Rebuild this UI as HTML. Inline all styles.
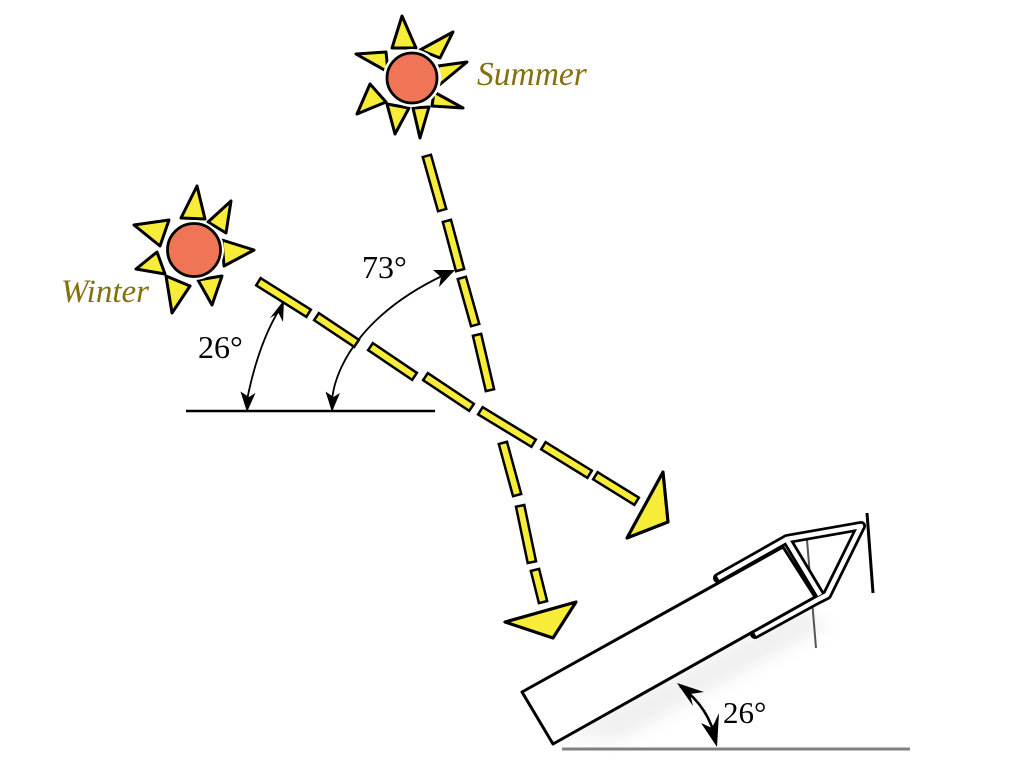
<!DOCTYPE html>
<html><head><meta charset="utf-8">
<style>
html,body{margin:0;padding:0;background:#fff;}
svg{display:block;}
</style></head>
<body>
<svg width="1030" height="782" viewBox="0 0 1030 782" xmlns="http://www.w3.org/2000/svg">
<defs>
<filter id="blur" x="-20%" y="-20%" width="140%" height="140%"><feGaussianBlur stdDeviation="8"/></filter>
</defs>
<rect width="1030" height="782" fill="#fff"/>

<!-- Summer sun -->
<g stroke="#000" stroke-width="3" stroke-linejoin="round" fill="#f7ec38">
<polygon points="392,48 402,16 416,48"/>
<polygon points="420,50 453,32 440,58"/>
<polygon points="438,66 467,62 438,86"/>
<polygon points="434,92 463,108 432,106"/>
<polygon points="413,108 420,138 429,107"/>
<polygon points="387,104 395,134 409,108"/>
<polygon points="370,84 357,114 386,102"/>
<polygon points="356,54 386,52 388,72"/>
</g>
<circle cx="412" cy="78" r="29" fill="#fff"/>
<circle cx="412" cy="78" r="25" fill="#f07557" stroke="#000" stroke-width="2.8"/>

<!-- Winter sun -->
<g stroke="#000" stroke-width="3" stroke-linejoin="round" fill="#f7ec38">
<polygon points="181,218 197,186 205,219"/>
<polygon points="208,222 231,201 226,233"/>
<polygon points="222,240 254,250 224,266"/>
<polygon points="198,280 212,305 222,276"/>
<polygon points="166,276 172,313 190,286"/>
<polygon points="157,252 136,269 165,274"/>
<polygon points="134,225 169,220 160,246"/>
</g>
<circle cx="194" cy="250" r="30" fill="#fff"/>
<circle cx="194" cy="250" r="26.5" fill="#f07557" stroke="#000" stroke-width="2.8"/>

<!-- Labels -->
<text x="477" y="85" font-family="Liberation Serif, serif" font-style="italic" font-size="33.5" fill="#85700f">Summer</text>
<text x="61" y="302" font-family="Liberation Serif, serif" font-style="italic" font-size="33" fill="#85700f">Winter</text>
<text x="198" y="358" font-family="Liberation Serif, serif" font-size="32" fill="#000">26°</text>
<text x="362" y="278" font-family="Liberation Serif, serif" font-size="32" fill="#000">73°</text>
<text x="723" y="723" font-family="Liberation Serif, serif" font-size="31" fill="#000">26°</text>

<!-- horizontal line -->
<line x1="186" y1="411" x2="435" y2="411" stroke="#000" stroke-width="2.4"/>

<!-- 26 arc -->
<path d="M247,400 Q258,345 279,310" fill="none" stroke="#000" stroke-width="1.8"/>
<polygon points="284,300 283,322 278.5,313 270,318" fill="#000"/>
<polygon points="247,412 255.5,393 249,397 240.5,391.5" fill="#000"/>

<!-- 73 arc -->
<path d="M332,400 C336,360 370,310 444,275" fill="none" stroke="#000" stroke-width="1.8"/>
<polygon points="332,412 339.9,393 333.5,397 325.5,391.5" fill="#000"/>
<polygon points="455,270 439,287 441,277 433,270" fill="#000"/>

<!-- Winter beam dashes -->
<g stroke="#000" stroke-width="11" stroke-linecap="square">
<line x1="262" y1="284" x2="305" y2="311"/>
<line x1="320" y1="319" x2="353" y2="341"/>
<line x1="374" y1="349" x2="411" y2="374"/>
<line x1="429" y1="379" x2="468" y2="405"/>
<line x1="484" y1="413" x2="530" y2="441"/>
<line x1="547" y1="448" x2="586" y2="472"/>
<line x1="599" y1="478" x2="633" y2="499"/>
</g>
<g stroke="#f7ec38" stroke-width="6" stroke-linecap="square">
<line x1="262" y1="284" x2="305" y2="311"/>
<line x1="320" y1="319" x2="353" y2="341"/>
<line x1="374" y1="349" x2="411" y2="374"/>
<line x1="429" y1="379" x2="468" y2="405"/>
<line x1="484" y1="413" x2="530" y2="441"/>
<line x1="547" y1="448" x2="586" y2="472"/>
<line x1="599" y1="478" x2="633" y2="499"/>
</g>

<!-- Summer beam dashes -->
<g stroke="#000" stroke-width="11" stroke-linecap="square">
<line x1="428" y1="160" x2="441" y2="206"/>
<line x1="448" y1="225" x2="459" y2="266"/>
<line x1="463" y1="282" x2="474" y2="321"/>
<line x1="478" y1="339" x2="489" y2="386"/>
<line x1="504" y1="447" x2="516" y2="491"/>
<line x1="521" y1="510" x2="531" y2="558"/>
<line x1="536" y1="574" x2="542" y2="598"/>
</g>
<g stroke="#f7ec38" stroke-width="6" stroke-linecap="square">
<line x1="428" y1="160" x2="441" y2="206"/>
<line x1="448" y1="225" x2="459" y2="266"/>
<line x1="463" y1="282" x2="474" y2="321"/>
<line x1="478" y1="339" x2="489" y2="386"/>
<line x1="504" y1="447" x2="516" y2="491"/>
<line x1="521" y1="510" x2="531" y2="558"/>
<line x1="536" y1="574" x2="542" y2="598"/>
</g>

<!-- arrowheads -->
<polygon points="663,472 668,522 627,538" fill="#f7ec38" stroke="#000" stroke-width="3.2" stroke-linejoin="round"/>
<polygon points="505,622 576,602 553,638" fill="#f7ec38" stroke="#000" stroke-width="3.2" stroke-linejoin="round"/>

<!-- shadow -->
<polygon points="560,735 800,610 830,625 620,740" fill="#d8d8d8" opacity="0.4" filter="url(#blur)"/>

<!-- gray leg -->
<line x1="807" y1="540" x2="816" y2="648" stroke="#555" stroke-width="2"/>

<!-- collector tubes -->
<g fill="none" stroke-linejoin="round">
<path d="M718,578 L787,539 L861,526 L827,595 L817,600 L755,634" stroke="#000" stroke-width="10" stroke-linecap="round"/>
<path d="M787,540 L820,595" stroke="#000" stroke-width="10"/>
<path d="M718,578 L787,539 L861,526 L827,595 L817,600 L755,634" stroke="#fff" stroke-width="4.5"/>
<path d="M787,540 L820,595" stroke="#fff" stroke-width="4.5"/>
</g>

<!-- box -->
<polygon points="522,692 783,547 815,597 553,744" fill="#fff" stroke="#000" stroke-width="3" stroke-linejoin="round"/>

<!-- black leg -->
<line x1="867" y1="513" x2="873" y2="593" stroke="#000" stroke-width="3"/>

<!-- ground line -->
<line x1="562" y1="749" x2="910" y2="749" stroke="#808080" stroke-width="3"/>

<!-- rotation arrow -->
<path d="M680,686 Q710,708 716,742" fill="none" stroke="#000" stroke-width="2.6"/>
<polygon points="677,683 704,692 690,694 693,706" fill="#000"/>
<polygon points="717,747 701,723 712,728 719,713" fill="#000"/>
</svg>
</body></html>
